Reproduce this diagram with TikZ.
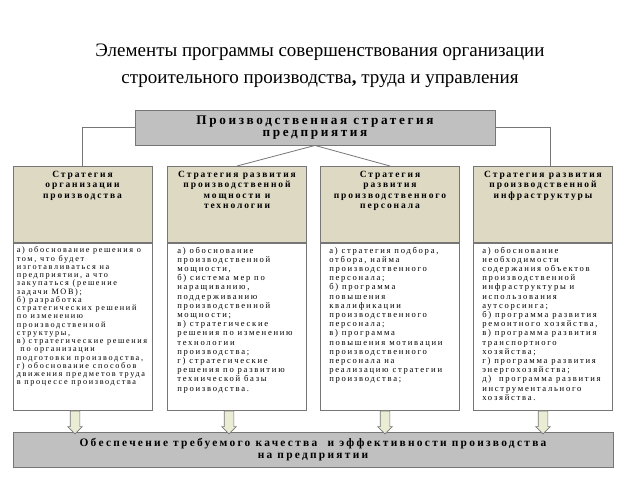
\documentclass[tikz,border=0pt]{standalone}
\usepackage{fontspec}
\setmainfont{Liberation Serif}
\newfontfamily\spacedfont[LetterSpace=20]{Liberation Serif}
\usetikzlibrary{shapes.arrows,positioning}

\definecolor{stratgray}{RGB}{192,192,192}
\definecolor{strattan}{RGB}{221,217,195}
\definecolor{arrowtan}{RGB}{234,236,212}
\definecolor{edgegray}{RGB}{118,118,118}

\tikzset{
  mainbox/.style={draw=edgegray, fill=stratgray, line width=0.9pt, minimum width=360pt, minimum height=35pt, align=center,
    font=\spacedfont\bfseries\fontsize{13.2}{12.5}\selectfont},
  headbox/.style={draw=edgegray, fill=strattan, line width=0.8pt, minimum width=139pt, minimum height=76pt, anchor=north},
  listbox/.style={draw=edgegray, fill=white, line width=0.8pt, minimum width=139pt, minimum height=167pt},
  headtext/.style={font=\spacedfont\bfseries\fontsize{9.5}{10.5}\selectfont, align=center, inner sep=0pt},
  listtext/.style={font=\spacedfont\fontsize{8.6}{9.2}\selectfont, align=left, inner sep=0pt},
  blockarrow/.style={single arrow, draw=edgegray, fill=arrowtan, line width=0.7pt, shape border rotate=270,
    minimum width=14pt, minimum height=23pt, single arrow head extend=2.5pt, inner sep=4.5pt, anchor=tail},
  connector/.style={draw=edgegray, line width=0.8pt}
}

\begin{document}
\begin{tikzpicture}[x=1pt, y=-1pt]
  \useasboundingbox (0,0) rectangle (640,480);

  % Title
  \node[font=\fontsize{19}{27}\selectfont, align=center, anchor=north] (title) at (320,40)
    {Элементы программы совершенствования организации\\строительного производства{\bfseries,} труда и управления};

  % Top box
  \node[mainbox] (top) at (315,127.5) {Производственная стратегия\\предприятия};

  % Strategy headers
  \node[headbox] (h1) at (82.5,166) {};
  \node[headbox] (h2) at (237,166) {};
  \node[headbox] (h3) at (390,166) {};
  \node[headbox] (h4) at (543,166) {};

  \node[headtext, below=5pt of h1.north] (t1) {Стратегия\\организации\\производства};
  \node[headtext, below=5pt of h2.north] (t2) {Стратегия развития\\производственной\\мощности и\\технологии};
  \node[headtext, below=5pt of h3.north] (t3) {Стратегия\\развития\\производственного\\персонала};
  \node[headtext, below=5pt of h4.north] (t4) {Стратегия развития\\производственной\\инфраструктуры};

  % Lists
  \node[listbox, below=0pt of h1] (l1) {};
  \node[listbox, below=0pt of h2] (l2) {};
  \node[listbox, below=0pt of h3] (l3) {};
  \node[listbox, below=0pt of h4] (l4) {};

  \node[listtext, font=\spacedfont\fontsize{8.2}{8.25}\selectfont, below right=4pt and 4pt of l1.north west] (b1)
    {а) обоснование решения о\\том, что будет\\изготавливаться на\\предприятии, а что\\закупаться (решение\\задачи MOB);\\
     б) разработка\\стратегических решений\\по изменению\\производственной\\структуры,\\
     в) стратегические решения\\\ по организации\\подготовки производства,\\
     г) обоснование способов\\движения предметов труда\\в процессе производства};
  \node[listtext, below right=4pt and 10pt of l2.north west] (b2)
    {а) обоснование\\производственной\\мощности,\\б) система мер по\\наращиванию,\\поддерживанию\\производственной\\мощности;\\
     в) стратегические\\решения по изменению\\технологии\\производства;\\
     г) стратегические\\решения по развитию\\технической базы\\производства.};
  \node[listtext, below right=4pt and 9pt of l3.north west] (b3)
    {а) стратегия подбора,\\отбора, найма\\производственного\\персонала;\\
     б) программа\\повышения\\квалификации\\производственного\\персонала;\\
     в) программа\\повышения мотивации\\производственного\\персонала на\\реализацию стратегии\\производства;};
  \node[listtext, below right=4pt and 9pt of l4.north west] (b4)
    {а) обоснование\\необходимости\\содержания объектов\\производственной\\инфраструктуры и\\использования\\аутсорсинга;\\
     б) программа развития\\ремонтного хозяйства,\\в) программа развития\\транспортного\\хозяйства;\\
     г) программа развития\\энергохозяйства;\\д)\ \ программа развития\\инструментального\\хозяйства.};

  % Bottom box
  \node[mainbox, minimum width=600pt, font=\spacedfont\bfseries\fontsize{11.4}{12}\selectfont] (bottom) at (313,449.5)
    {Обеспечение требуемого качества\ \ и эффективности производства\\на предприятии};

  % Block arrows
  \node[blockarrow] (a1) at ([xshift=-7.5pt]l1.south) {};
  \node[blockarrow] (a2) at ([xshift=-8pt]l2.south) {};
  \node[blockarrow] (a3) at ([xshift=-5pt]l3.south) {};
  \node[blockarrow] (a4) at (l4.south) {};

  % Connectors
  \draw[connector] (top.west) -| (h1.north);
  \draw[connector] (top.east) -| ([xshift=7pt]h4.north);
  \draw[connector] (top.south) -- (h2.north);
  \draw[connector] (top.south) -- (h3.north);
\end{tikzpicture}
\end{document}
